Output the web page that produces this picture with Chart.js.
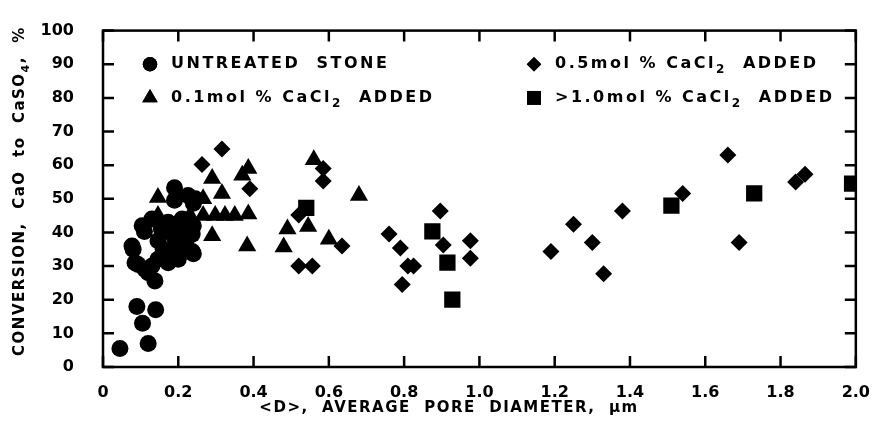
<!DOCTYPE html>
<html lang="en">
<head>
    <meta charset="UTF-8">
    <title>Conversion vs average pore diameter</title>
    <script src="https://cdn.jsdelivr.net/npm/chart.js"></script>
    <style>
        body {
            margin: 0;
            background: #fff;
        }
        canvas {
            display: block;
        }
    </style>
</head>
<body>
    <canvas id="poreChart" width="878" height="431"></canvas>

    <script>
        // readings taken off the plot: [pore diameter um, conversion %]
        const untreatedStone = [
            [0.045, 5.5], [0.12, 7], [0.09, 18], [0.14, 17], [0.105, 13],
            [0.08, 35], [0.093, 30.5], [0.12, 28], [0.138, 25.6], [0.085, 31],
            [0.112, 29], [0.146, 32], [0.173, 31], [0.2, 32], [0.104, 42],
            [0.13, 44], [0.173, 43], [0.21, 44], [0.237, 39.5], [0.19, 38.5],
            [0.146, 37.5], [0.218, 35.7], [0.184, 34.3], [0.237, 34.3], [0.077, 36],
            [0.165, 40.3], [0.11, 40.3], [0.19, 53.3], [0.226, 51], [0.245, 50],
            [0.19, 49.6], [0.24, 48.7], [0.24, 42], [0.16, 35], [0.2, 41],
            [0.22, 37], [0.13, 30], [0.155, 41], [0.18, 32.8], [0.24, 33.7]
        ];
        const cacl01 = [
            [0.146, 50.4], [0.146, 45], [0.231, 45], [0.266, 45], [0.298, 45],
            [0.324, 45], [0.35, 45], [0.29, 56], [0.316, 51.6], [0.266, 50],
            [0.386, 59], [0.37, 57], [0.386, 45.5], [0.383, 36], [0.29, 39],
            [0.49, 41], [0.48, 35.7], [0.545, 41.8], [0.56, 61.6], [0.6, 38],
            [0.68, 51]
        ];
        const cacl05 = [
            [0.316, 64.8], [0.263, 60.2], [0.39, 53], [0.585, 59], [0.585, 55.3],
            [0.52, 45.2], [0.635, 36], [0.52, 30], [0.556, 30], [0.76, 39.5],
            [0.79, 35.4], [0.81, 30], [0.825, 30], [0.795, 24.5], [0.896, 46.4],
            [0.904, 36.3], [0.976, 37.5], [0.976, 32.3], [1.19, 34.3], [1.25, 42.4],
            [1.30, 37], [1.33, 27.7], [1.38, 46.4], [1.54, 51.6], [1.66, 63],
            [1.69, 37], [1.84, 55], [1.865, 57.3]
        ];
        const cacl10 = [
            [0.54, 47.3], [0.875, 40.3], [0.915, 31], [0.928, 20],
            [1.51, 48], [1.73, 51.6], [1.99, 54.5]
        ];

        const xTickValues = [0, 0.2, 0.4, 0.6, 0.8, 1.0, 1.2, 1.4, 1.6, 1.8, 2.0];
        const yTickValues = [0, 10, 20, 30, 40, 50, 60, 70, 80, 90, 100];

        // text pieces, { sub: true } marks a subscript
        const legendLabels = [
            [{ t: 'UNTREATED  STONE' }],
            [{ t: '0.1mol % CaCl' }, { t: '2', sub: true }, { t: '  ADDED' }],
            [{ t: '0.5mol % CaCl' }, { t: '2', sub: true }, { t: '  ADDED' }],
            [{ t: '>1.0mol % CaCl' }, { t: '2', sub: true }, { t: '  ADDED' }]
        ];
        const xTitle = [{ t: '<D>,  AVERAGE  PORE  DIAMETER,  µm' }];
        const yTitle = [{ t: 'CONVERSION,  CaO  to  CaSO' }, { t: '4', sub: true }, { t: ',  %' }];

        const FONT = '"DejaVu Sans", sans-serif';

        function toPoints(list) {
            return list.map(p => ({ x: p[0], y: p[1] }));
        }

        function setFont(ctx, size, sub) {
            ctx.font = 'bold ' + (sub ? Math.round(size * 0.72) : size) + 'px ' + FONT;
        }

        function richWidth(ctx, parts, size) {
            let w = 0;
            parts.forEach(p => {
                setFont(ctx, size, p.sub);
                w += ctx.measureText(p.t).width;
            });
            return w;
        }

        function drawRich(ctx, parts, x, y, size) {
            let cx = x;
            parts.forEach(p => {
                setFont(ctx, size, p.sub);
                ctx.fillText(p.t, cx, y + (p.sub ? size * 0.38 : 0));
                cx += ctx.measureText(p.t).width;
            });
        }

        // frame with inward ticks, legend inside the plot and the two axis titles
        const paperPlugin = {
            id: 'paper',
            afterDraw(chart) {
                const { ctx, chartArea: a, scales: { x, y } } = chart;
                const tick = 11;
                ctx.save();
                ctx.strokeStyle = '#000';
                ctx.fillStyle = '#000';
                ctx.lineWidth = 2.5;
                ctx.strokeRect(a.left, a.top, a.right - a.left, a.bottom - a.top);

                ctx.beginPath();
                xTickValues.forEach(v => {
                    const px = x.getPixelForValue(v);
                    ctx.moveTo(px, a.bottom); ctx.lineTo(px, a.bottom - tick);
                    ctx.moveTo(px, a.top); ctx.lineTo(px, a.top + tick);
                });
                yTickValues.forEach(v => {
                    const py = y.getPixelForValue(v);
                    ctx.moveTo(a.left, py); ctx.lineTo(a.left + tick, py);
                    ctx.moveTo(a.right, py); ctx.lineTo(a.right - tick, py);
                });
                ctx.stroke();

                // legend, two columns
                ctx.textBaseline = 'middle';
                ctx.textAlign = 'left';
                ctx.letterSpacing = '2.5px';
                const cols = [a.left + 47, a.left + 431];
                const rows = [y.getPixelForValue(90), y.getPixelForValue(80)];
                const order = [[0, 0], [0, 1], [1, 0], [1, 1]];
                chart.data.datasets.forEach((ds, i) => {
                    const [c, r] = order[i];
                    Chart.helpers.drawPoint(ctx, {
                        pointStyle: ds.pointStyle,
                        radius: ds.pointRadius * 0.85,
                        rotation: 0,
                        borderWidth: 0
                    }, cols[c], rows[r]);
                    ctx.fill();
                    drawRich(ctx, legendLabels[i], cols[c] + 21, rows[r], 16);
                });

                // x title
                ctx.letterSpacing = '1.5px';
                const xw = richWidth(ctx, xTitle, 15);
                drawRich(ctx, xTitle, 449 - xw / 2, 408, 15);

                // y title, rotated
                const yw = richWidth(ctx, yTitle, 15);
                ctx.translate(20, 191);
                ctx.rotate(-Math.PI / 2);
                drawRich(ctx, yTitle, -yw / 2, 0, 15);
                ctx.restore();
            }
        };

        const ctx = document.getElementById('poreChart').getContext('2d');

        new Chart(ctx, {
            type: 'scatter',
            data: {
                datasets: [
                    { label: 'UNTREATED STONE', data: toPoints(untreatedStone), pointStyle: 'circle', pointRadius: 8.5 },
                    { label: '0.1mol % CaCl2 ADDED', data: toPoints(cacl01), pointStyle: 'triangle', pointRadius: 10.5 },
                    { label: '0.5mol % CaCl2 ADDED', data: toPoints(cacl05), pointStyle: 'rectRot', pointRadius: 8.5 },
                    { label: '>1.0mol % CaCl2 ADDED', data: toPoints(cacl10), pointStyle: 'rect', pointRadius: 11.5 }
                ].map(ds => Object.assign(ds, {
                    backgroundColor: '#000',
                    borderColor: '#000',
                    borderWidth: 0,
                    pointHoverRadius: ds.pointRadius,
                    clip: 0
                }))
            },
            options: {
                responsive: false,
                animation: false,
                layout: { padding: { top: 20, right: 21, bottom: 0, left: 0 } },
                plugins: {
                    legend: { display: false },
                    tooltip: { enabled: false }
                },
                scales: {
                    x: {
                        type: 'linear',
                        min: 0,
                        max: 2,
                        grid: { display: false },
                        border: { display: false },
                        afterFit: s => { s.height = 64; },
                        afterBuildTicks: s => { s.ticks = xTickValues.map(v => ({ value: v })); },
                        ticks: {
                            padding: 8,
                            color: '#000',
                            font: { family: FONT, size: 16, weight: 'bold' },
                            maxRotation: 0,
                            callback: v => v === 0 ? '0' : v.toFixed(1)
                        }
                    },
                    y: {
                        min: 0,
                        max: 100,
                        grid: { display: false },
                        border: { display: false },
                        afterFit: s => { s.width = 103; },
                        afterBuildTicks: s => { s.ticks = yTickValues.map(v => ({ value: v })); },
                        ticks: {
                            padding: 21,
                            color: '#000',
                            font: { family: FONT, size: 16, weight: 'bold' }
                        }
                    }
                }
            },
            plugins: [paperPlugin]
        });
    </script>
</body>
</html>
